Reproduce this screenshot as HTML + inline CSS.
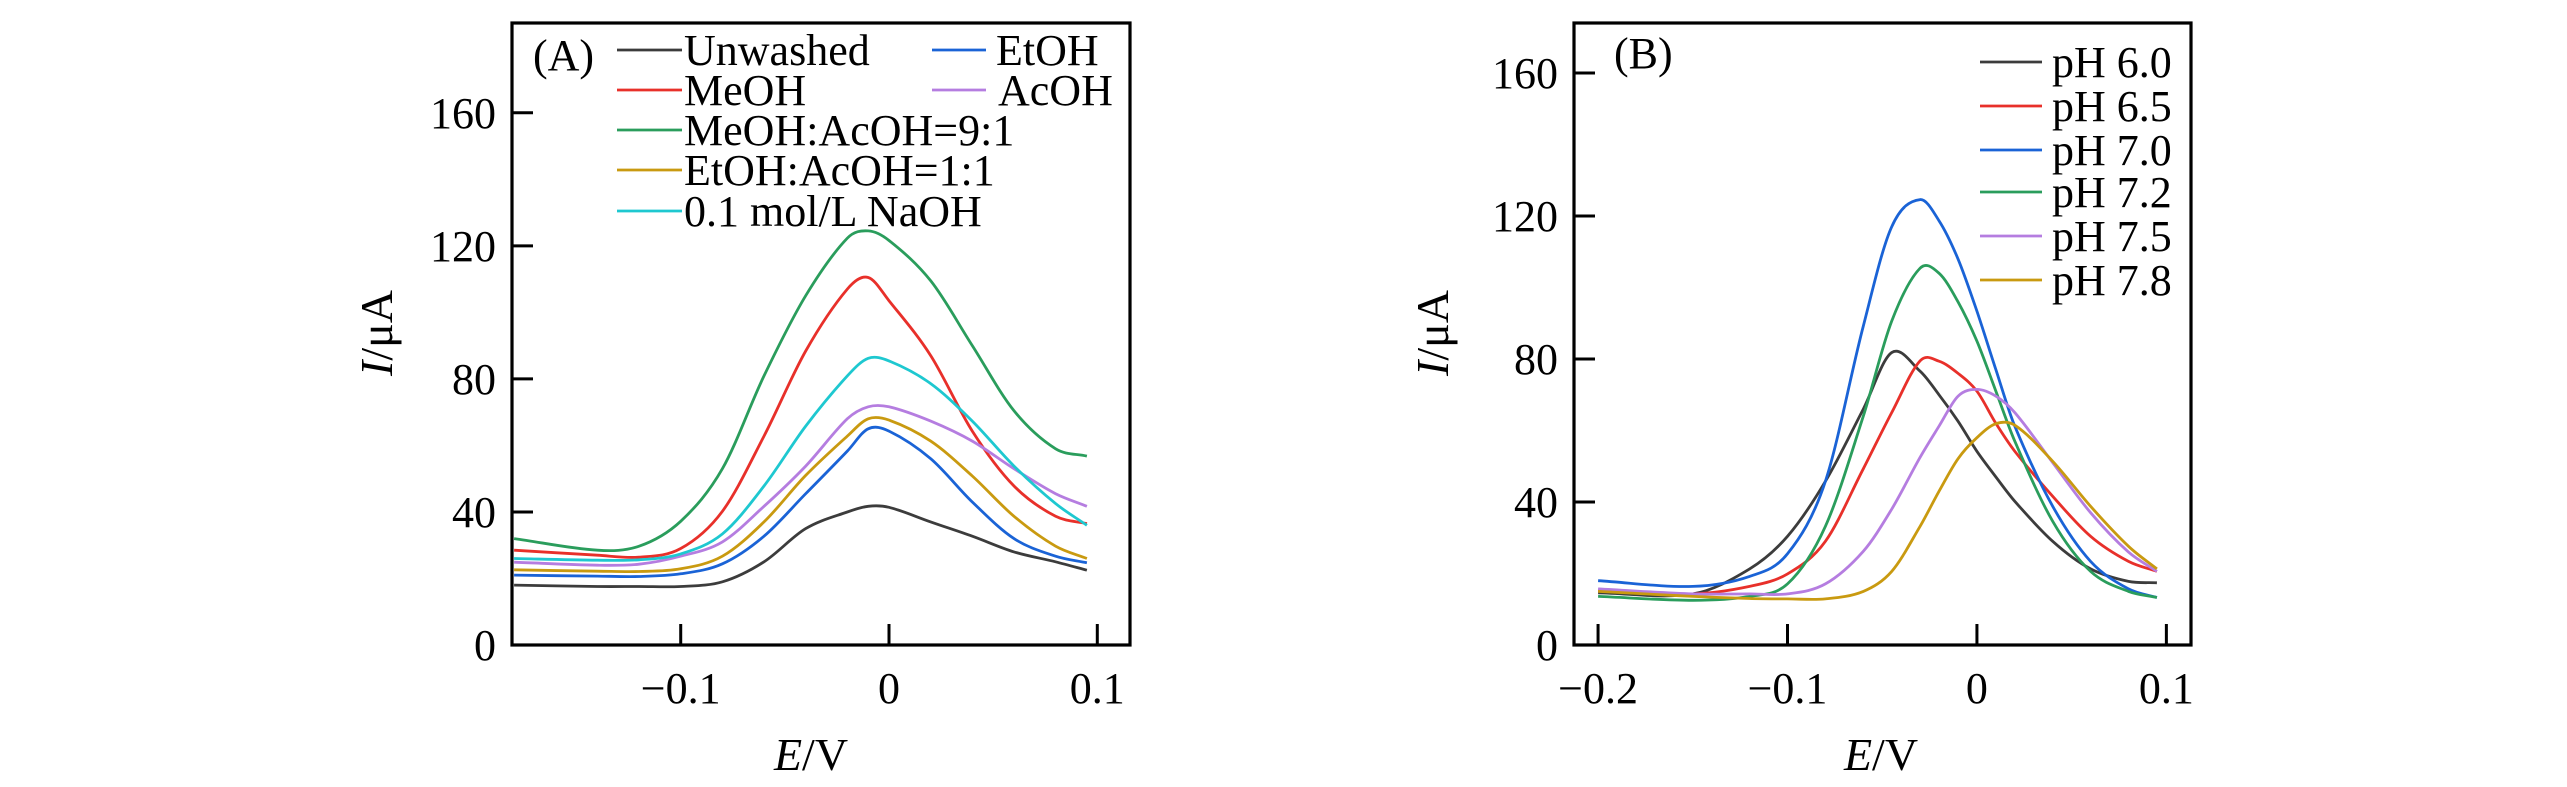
<!DOCTYPE html>
<html><head><meta charset="utf-8">
<style>
html,body{margin:0;padding:0;background:#fff;}
svg{display:block;}
text{font-family:"Liberation Serif","Times New Roman",serif;fill:#000;}
</style></head>
<body>
<svg id="fig" width="2567" height="787" viewBox="0 0 2567 787" xmlns="http://www.w3.org/2000/svg"></svg>
<script>
// ---- Panel A data ----
const aNames = ["Unwashed","EtOH","MeOH","AcOH","MeOH:AcOH=9:1","EtOH:AcOH=1:1","0.1 mol/L NaOH"];
const aColors = ["#3c3c3c","#1a63d6","#e8302a","#b57de0","#2a9d5c","#c99a10","#1ec8d0"];
const aX = [-0.18,-0.14,-0.12,-0.10,-0.08,-0.06,-0.04,-0.02,-0.01,0,0.02,0.04,0.06,0.08,0.095];
const aUnwashed = [18,17.6,17.6,17.6,19,25,35,40,41.7,41.4,37,32.7,28,25,22.5];
const aEtOH = [21,20.7,20.6,21.4,24.4,32.7,45.5,58.3,65,64.3,56,43,32,26.7,24.7];
const aMeOH = [28.5,27,26.4,29,40.2,62.8,88.4,107,110.5,103.5,87,64.3,47.8,38.7,36.5];
const aAcOH = [24.9,24,24.3,26.7,31,41.7,53.8,68,71.6,71.6,67.3,61.3,53,45.5,41.7];
const aMeAc = [32,28.5,29.7,37.2,53,80.9,105,122.3,124.5,121.6,109.5,90,70.4,59,56.8];
const aEtAc = [22.6,22.2,22.1,22.9,26.7,37,51,62.8,68,67.6,61.3,50.8,38.7,29.7,26];
const aNaOH = [26,25.5,25.6,27.4,33.4,47.8,65.8,80.9,86.2,85.4,78.6,67.3,53.8,42.5,36];
const aSeries = [aUnwashed,aEtOH,aMeOH,aAcOH,aMeAc,aEtAc,aNaOH];
const aYTicks = [0,40,80,120,160];
const aXTicks = [-0.1,0,0.1];
const aXTickLabels = ["\u22120.1","0","0.1"];

// ---- Panel B data ----
const bNames = ["pH 6.0","pH 6.5","pH 7.0","pH 7.2","pH 7.5","pH 7.8"];
const bColors = ["#3c3c3c","#e8302a","#1a63d6","#2a9d5c","#b57de0","#c99a10"];
const bX = [-0.2,-0.15,-0.12,-0.1,-0.08,-0.06,-0.045,-0.03,-0.02,-0.01,0,0.01,0.02,0.04,0.06,0.08,0.095];
const bPH60 = [14.6,14.3,21.3,30.4,45.8,66,81.8,76.6,70,62.6,54.2,47,40.2,29,21.3,17.8,17.4];
const bPH65 = [15.3,14.3,16.4,19.9,29,49.3,65,79.5,79.4,76,71,62,54.2,41.6,30.4,23.4,20.6];
const bPH70 = [18,16.4,19.2,25.5,45.8,89.2,117,124.6,118.7,108,93.4,77,61.2,38.8,23.4,15.7,13.3];
const bPH72 = [13.6,12.5,13.6,17.1,33.2,64,90.6,105.4,104,96,85,71,57,34.6,20.6,15,13.3];
const bPH75 = [15.7,14.3,14.3,14.3,17.1,26.2,38,52.5,61.2,69.6,71.5,69.6,65,51,37,26,20.6];
const bPH78 = [15,13.6,13,12.9,12.9,15,20.6,33.2,43,52.1,58,61.9,61.5,51.4,38.8,27.6,21.3];
const bSeries = [bPH60,bPH65,bPH70,bPH72,bPH75,bPH78];
const bYTicks = [0,40,80,120,160];
const bXTicks = [-0.2,-0.1,0,0.1];
const bXTickLabels = ["\u22120.2","\u22120.1","0","0.1"];

const NS="http://www.w3.org/2000/svg";
const svg=document.getElementById('fig');
function mk(tag,attrs,parent){const e=document.createElementNS(NS,tag);for(const k in attrs)e.setAttribute(k,attrs[k]);(parent||svg).appendChild(e);return e;}
function smoothPath(pts){
  const n=pts.length, m=[];
  for(let i=0;i<n;i++){
    const a=pts[Math.max(0,i-1)], b=pts[Math.min(n-1,i+1)];
    m.push((b[1]-a[1])/(b[0]-a[0]));
  }
  let d="M"+pts[0][0].toFixed(1)+","+pts[0][1].toFixed(1);
  for(let i=0;i<n-1;i++){
    const p1=pts[i],p2=pts[i+1],h=(p2[0]-p1[0])/3;
    d+=" C"+(p1[0]+h).toFixed(1)+","+(p1[1]+m[i]*h).toFixed(1)+" "+(p2[0]-h).toFixed(1)+","+(p2[1]-m[i+1]*h).toFixed(1)+" "+p2[0].toFixed(1)+","+p2[1].toFixed(1);
  }
  return d;
}

function panel(cfg){
  const g=mk('g',{});
  
  
  const L=cfg.left,R=cfg.right,T=23,B=645;
  const sx=v=>L+(v-cfg.xmin)/(cfg.xmax-cfg.xmin)*(R-L);
  const sy=v=>B-(v-0)/(cfg.ymax-0)*(B-T);
  const sg=mk('g',{},g);
  
  
  cfg.series.forEach((s,i)=>{
    const pts=cfg.xs.map((x,j)=>[sx(x),sy(s[j])]);
    const p=mk('path',{d:smoothPath(pts),fill:'none',stroke:cfg.colors[i],'stroke-width':2.8,'stroke-linejoin':'round'},sg);
    
    
  });
  const fr=mk('rect',{x:L,y:T,width:R-L,height:B-T,fill:'none',stroke:'#000','stroke-width':3.2},g);
  
  
  cfg.yTicks.forEach(v=>{
    const y=sy(v);
    const t=mk('line',{x1:L,x2:L+21,y1:y,y2:y,stroke:'#000','stroke-width':3},g);
    
    
    const tx=mk('text',{x:L-16,y:y+15,'text-anchor':'end','font-size':44},g);
    tx.textContent=String(v);
    
    
  });
  cfg.xTicks.forEach((v,i)=>{
    const x=sx(v);
    const t=mk('line',{x1:x,x2:x,y1:B,y2:B-21,stroke:'#000','stroke-width':3},g);
    
    
    const tx=mk('text',{x:x,y:703,'text-anchor':'middle','font-size':44},g);
    tx.textContent=cfg.xTickLabels[i];
    
    
  });
  const yt=mk('text',{x:0,y:0,'font-size':46,transform:'translate('+cfg.ytx+',333) rotate(-90)','text-anchor':'middle'},g);
  yt.innerHTML='<tspan font-style="italic">I</tspan>/\u03bcA';
  
  
  const xt=mk('text',{x:cfg.xtx,y:770,'font-size':46,'text-anchor':'middle'},g);
  xt.innerHTML='<tspan font-style="italic">E</tspan>/V';
  
  
  const pl=mk('text',{x:cfg.labelX,y:cfg.labelY,'font-size':44},g);
  pl.textContent=cfg.label;
  
  
  const lg=mk('g',{},g);
  
  
  cfg.legend.forEach((e,i)=>{
    const eg=mk('g',{},lg);
    
    
    mk('line',{x1:e[0],x2:e[1],y1:e[3],y2:e[3],stroke:cfg.colors[i],'stroke-width':2.8},eg);
    const t=mk('text',{x:e[2],y:e[3]+15,'font-size':44},eg);
    t.textContent=cfg.names[i];
  });
}

panel({id:'panel-a',left:512,right:1130,xmin:-0.181,xmax:0.1157,ymax:187,
  xs:aX,series:aSeries,colors:aColors,names:aNames,yTicks:aYTicks,xTicks:aXTicks,xTickLabels:aXTickLabels,
  ytx:392,xtx:811,label:'(A)',labelX:533,labelY:70,
  legend:[[617,682,684,50],[932,986,996,50],[617,682,684,90],[932,986,998,90],[617,682,684,130],[617,682,684,170],[617,682,684,211]]});
panel({id:'panel-b',left:1574,right:2191,xmin:-0.2127,xmax:0.113,ymax:174,
  xs:bX,series:bSeries,colors:bColors,names:bNames,yTicks:bYTicks,xTicks:bXTicks,xTickLabels:bXTickLabels,
  ytx:1448,xtx:1881,label:'(B)',labelX:1614,labelY:68,
  legend:[[1980,2042,2052,62],[1980,2042,2052,106],[1980,2042,2052,150],[1980,2042,2052,192],[1980,2042,2052,236],[1980,2042,2052,280]]});
</script>
</body></html>
